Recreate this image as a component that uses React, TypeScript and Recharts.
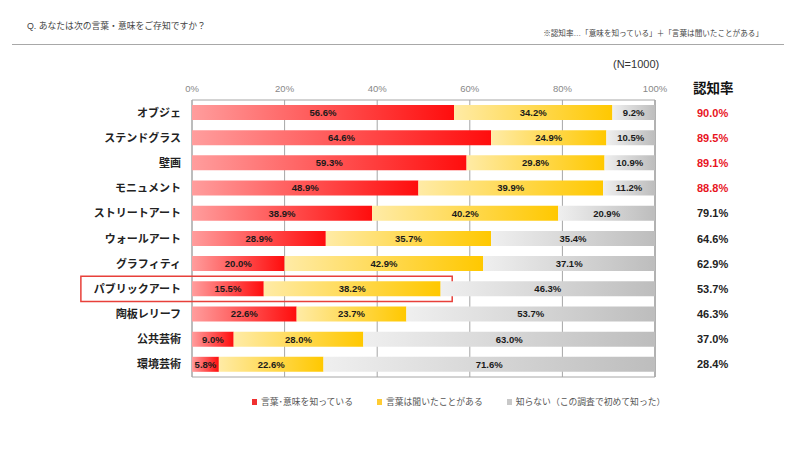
import { Bar, BarChart, CartesianGrid, LabelList, ReferenceArea, XAxis, YAxis } from 'recharts';

const categories = [
  'オブジェ',
  'ステンドグラス',
  '壁画',
  'モニュメント',
  'ストリートアート',
  'ウォールアート',
  'グラフィティ',
  'パブリックアート',
  '陶板レリーフ',
  '公共芸術',
  '環境芸術',
];
const knowMeaning = [56.6, 64.6, 59.3, 48.9, 38.9, 28.9, 20.0, 15.5, 22.6, 9.0, 5.8];
const heardWord = [34.2, 24.9, 29.8, 39.9, 40.2, 35.7, 42.9, 38.2, 23.7, 28.0, 22.6];
const unknownWord = [9.2, 10.5, 10.9, 11.2, 20.9, 35.4, 37.1, 46.3, 53.7, 63.0, 71.6];
const awareness = [90.0, 89.5, 89.1, 88.8, 79.1, 64.6, 62.9, 53.7, 46.3, 37.0, 28.4];
const xTicks = [0, 20, 40, 60, 80, 100];
const legendItems = [
  { label: '言葉･意味を知っている', color: '#f03030' },
  { label: '言葉は聞いたことがある', color: '#ffcc33' },
  { label: '知らない（この調査で初めて知った）', color: '#c8c8c8' },
];

const FONT = "'Liberation Sans', 'Noto Sans CJK JP', sans-serif";

const data = categories.map((name, i) => ({
  name,
  know: knowMeaning[i],
  heard: heardWord[i],
  unknown: unknownWord[i],
  rate: awareness[i],
}));

const pct = (v: any) => `${Number(v).toFixed(1)}%`;

function CategoryTick(props: any) {
  const { x, y, payload } = props;
  return (
    <text x={x - 3} y={y} dy={4} textAnchor="end" fontSize={11} fontWeight="bold" fill="#222" fontFamily={FONT}>
      {payload.value}
    </text>
  );
}

function RateTick(props: any) {
  const { x, y, payload, index } = props;
  const row = data.find((d) => d.name === payload.value);
  const rate = row ? row.rate : 0;
  return (
    <text
      x={x + 34}
      y={y}
      dy={4}
      textAnchor="start"
      fontSize={11}
      fontWeight="bold"
      fill={index < 4 ? '#e8141e' : '#222'}
      fontFamily={FONT}
    >
      {pct(rate)}
    </text>
  );
}

export default function App() {
  return (
    <div style={{ position: 'relative', width: 800, height: 449, background: '#fff', fontFamily: FONT }}>
      <style>{'body{margin:0}'}</style>

      <div style={{ position: 'absolute', left: 27, top: 19, fontSize: 8.8, color: '#444' }}>
        Q. あなたは次の言葉・意味をご存知ですか？
      </div>
      <div style={{ position: 'absolute', right: 37, top: 27, fontSize: 7.6, color: '#444' }}>
        ※認知率…「意味を知っている」＋「言葉は聞いたことがある」
      </div>
      <div style={{ position: 'absolute', left: 12, width: 772, top: 44, height: 0, borderTop: '1.5px solid #a8a8a8' }} />
      <div style={{ position: 'absolute', left: 613, top: 58, fontSize: 11, color: '#333' }}>(N=1000)</div>
      <div style={{ position: 'absolute', left: 693, top: 77, fontSize: 13.5, fontWeight: 'bold', color: '#111' }}>
        認知率
      </div>

      <BarChart
        width={800}
        height={449}
        data={data}
        layout="vertical"
        margin={{ top: 70, right: 0, bottom: 72, left: 0 }}
        barCategoryGap={5}
        style={{ position: 'absolute', left: 0, top: 0 }}
      >
        <defs>
          <linearGradient id="gradRed" x1="0" y1="0" x2="1" y2="0">
            <stop offset="0%" stopColor="#ff9d9d" />
            <stop offset="100%" stopColor="#ff0d0d" />
          </linearGradient>
          <linearGradient id="gradYellow" x1="0" y1="0" x2="1" y2="0">
            <stop offset="0%" stopColor="#ffeba6" />
            <stop offset="100%" stopColor="#ffc800" />
          </linearGradient>
          <linearGradient id="gradGray" x1="0" y1="0" x2="1" y2="0">
            <stop offset="0%" stopColor="#efefef" />
            <stop offset="100%" stopColor="#bdbdbd" />
          </linearGradient>
        </defs>
        <CartesianGrid horizontal={false} stroke="#a6a6a6" />
        <XAxis
          type="number"
          orientation="top"
          domain={[0, 100]}
          ticks={xTicks}
          height={30}
          axisLine={false}
          tickLine={false}
          tick={{ fill: '#888', fontSize: 9.5, fontFamily: FONT }}
          tickFormatter={(v) => `${v}%`}
        />
        <YAxis
          yAxisId="left"
          type="category"
          dataKey="name"
          width={192}
          axisLine={false}
          tickLine={false}
          tick={<CategoryTick />}
          interval={0}
        />
        <YAxis
          yAxisId="right"
          orientation="right"
          type="category"
          dataKey="name"
          width={145}
          axisLine={false}
          tickLine={false}
          tick={<RateTick />}
          interval={0}
        />
        <ReferenceArea yAxisId="left" x1={0} x2={100} fill="none" stroke="#a6a6a6" strokeWidth={1} />
        <Bar yAxisId="left" dataKey="know" stackId="a" fill="url(#gradRed)" isAnimationActive={false}>
          <LabelList dataKey="know" position="center" formatter={pct} fill="#1a1a1a" fontSize={9.5} fontWeight="bold" fontFamily={FONT} />
        </Bar>
        <Bar yAxisId="left" dataKey="heard" stackId="a" fill="url(#gradYellow)" isAnimationActive={false}>
          <LabelList dataKey="heard" position="center" formatter={pct} fill="#1a1a1a" fontSize={9.5} fontWeight="bold" fontFamily={FONT} />
        </Bar>
        <Bar yAxisId="left" dataKey="unknown" stackId="a" fill="url(#gradGray)" isAnimationActive={false}>
          <LabelList dataKey="unknown" position="center" formatter={pct} fill="#1a1a1a" fontSize={9.5} fontWeight="bold" fontFamily={FONT} />
        </Bar>
        <ReferenceArea
          yAxisId="left"
          y1="パブリックアート"
          y2="パブリックアート"
          x1={-24}
          x2={56.2}
          ifOverflow="visible"
          fill="none"
          stroke="#e8403a"
          strokeWidth={1.5}
        />
      </BarChart>

      <div
        style={{
          position: 'absolute',
          left: 252,
          top: 395,
          display: 'flex',
          fontSize: 8.8,
          color: '#555',
        }}
      >
        {legendItems.map((item) => (
          <div key={item.label} style={{ display: 'flex', alignItems: 'center', marginRight: 24 }}>
            <span style={{ width: 5, height: 6, background: item.color, marginRight: 4, display: 'inline-block' }} />
            {item.label}
          </div>
        ))}
      </div>
    </div>
  );
}
